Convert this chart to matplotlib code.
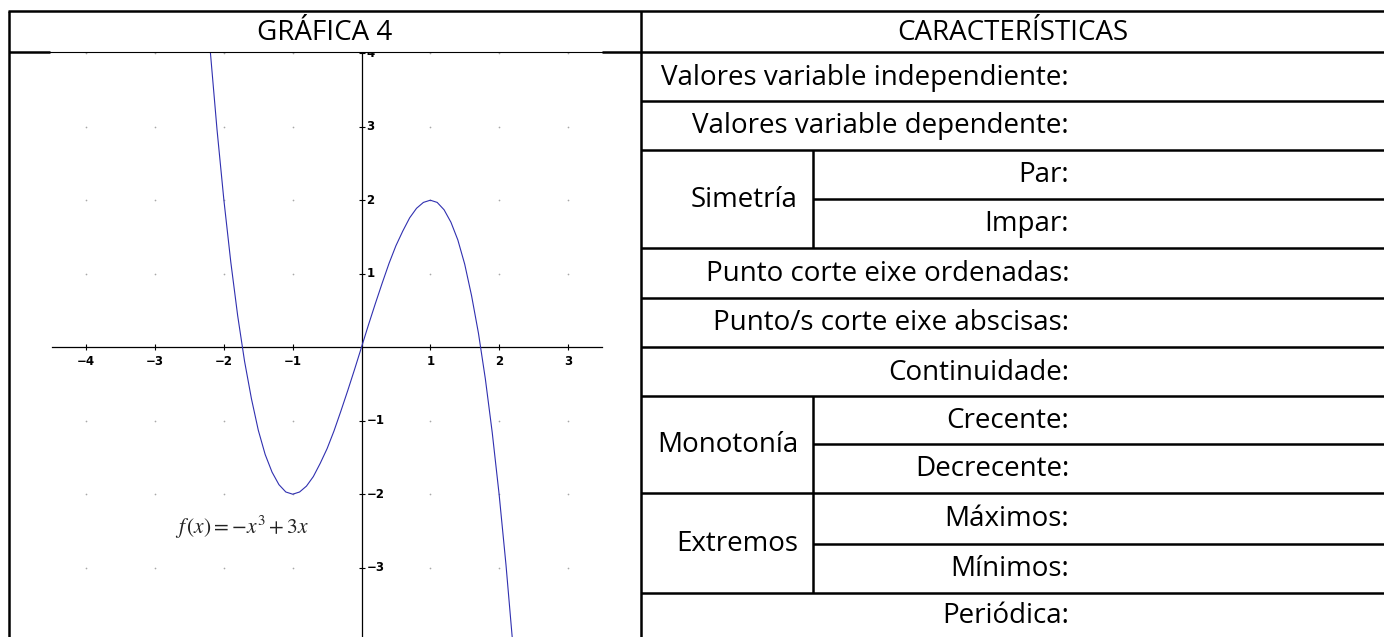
import numpy as np
import matplotlib
matplotlib.use("Agg")
import matplotlib.pyplot as plt

# ---- data -------------------------------------------------------------
# points read off the blue curve f(x) = -x^3 + 3x
curve_x = [-2.2, -2.1, -2.0, -1.9, -1.8, -1.7, -1.6, -1.5, -1.4, -1.3, -1.2,
           -1.1, -1.0, -0.9, -0.8, -0.7, -0.6, -0.5, -0.4, -0.3, -0.2, -0.1,
           0.0, 0.1, 0.2, 0.3, 0.4, 0.5, 0.6, 0.7, 0.8, 0.9, 1.0, 1.1, 1.2,
           1.3, 1.4, 1.5, 1.6, 1.7, 1.8, 1.9, 2.0, 2.1, 2.2]
curve_y = [4.05, 2.96, 2.00, 1.16, 0.43, -0.19, -0.70, -1.13, -1.46, -1.70,
           -1.87, -1.97, -2.00, -1.97, -1.89, -1.76, -1.58, -1.38, -1.14,
           -0.87, -0.59, -0.30, 0.00, 0.30, 0.59, 0.87, 1.14, 1.38, 1.58,
           1.76, 1.89, 1.97, 2.00, 1.97, 1.87, 1.70, 1.46, 1.13, 0.70, 0.19,
           -0.43, -1.16, -2.00, -2.96, -4.05]

x_ticks = [-4, -3, -2, -1, 1, 2, 3]
y_ticks = [-3, -2, -1, 1, 2, 3, 4]
grid_x = [-4, -3, -2, -1, 1, 2, 3]
grid_y = [-3, -2, -1, 1, 2, 3, 4]
formula = r"$f\,\left(x\right) = -x^{3} + 3x$"

title_left = "GRÁFICA 4"
title_right = "CARACTERÍSTICAS"

# right column labels (right aligned) and the row they sit in
row_labels = ["Valores variable independiente:", "Valores variable dependente:",
              "Par:", "Impar:", "Punto corte eixe ordenadas:",
              "Punto/s corte eixe abscisas:", "Continuidade:", "Crecente:",
              "Decrecente:", "Máximos:", "Mínimos:", "Periódica:"]
group_labels = ["Simetría", "Monotonía", "Extremos"]

# ---- layout (pixels) --------------------------------------------------
W, H = 1384, 637
X_LEFT, X_MID, X_SUB, X_END = 9, 641, 813, 1384
Y_TOP, Y_HEAD = 11, 52
row_edges = [52, 101, 150, 199, 248, 298, 347, 396, 444, 493, 544, 593, 637]
full_lines = [101, 150, 248, 298, 347, 396, 493, 593]
half_lines = [199, 444, 544]
groups = [(150, 248), (396, 493), (493, 593)]
TEXT_RIGHT = 1069
GROUP_RIGHT = 798

FONT = "Open Sans"
FS = 20
LW = 1.8

fig = plt.figure(figsize=(W / 100, H / 100), dpi=100)

# ---- graph --------------------------------------------------------------
px_per_x, px_per_y = 68.8, 73.5
x0_px, y0_px = 361.5, 347.2
gx = fig.add_axes([X_LEFT / W, 0, (X_MID - X_LEFT) / W, 1 - Y_HEAD / H])
gx.set_xlim((X_LEFT - x0_px) / px_per_x, (X_MID - x0_px) / px_per_x)
gx.set_ylim((y0_px - H) / px_per_y, (y0_px - Y_HEAD) / px_per_y)
gx.axis("off")

gxx, gyy = np.meshgrid(grid_x, grid_y)
gx.scatter(gxx.ravel(), gyy.ravel(), s=1.5, color="#a8a8a8", lw=0)

gx.plot([-4.5, 3.5], [0, 0], color="black", lw=0.9)
gx.plot([0, 0], [-5, 4], color="black", lw=0.9)
gx.plot(x_ticks, [0] * len(x_ticks), ls="none", marker="|", ms=5,
        color="black", mew=0.8)
gx.plot([0] * len(y_ticks), y_ticks, ls="none", marker="_", ms=5,
        color="black", mew=0.8)
for t in x_ticks:
    gx.text(t, -0.1, f"{t}".replace("-", "\u2212"), ha="center", va="top",
            fontsize=8.5, fontweight="bold", family="DejaVu Sans")
for t in y_ticks:
    gx.text(0.07, t, f"{t}".replace("-", "\u2212"), ha="left", va="center",
            fontsize=8.5, fontweight="bold", family="DejaVu Sans", clip_on=True)

gx.plot(curve_x, curve_y, color="#3030b0", lw=0.8)
gx.text(-1.74, -2.45, formula, ha="center", va="center", fontsize=15.5,
        math_fontfamily="stix", color="#222222")

# ---- table --------------------------------------------------------------
ax = fig.add_axes([0, 0, 1, 1])
ax.set_xlim(0, W)
ax.set_ylim(H, 0)
ax.axis("off")
ax.patch.set_alpha(0)

line = dict(color="black", lw=LW, solid_capstyle="butt")
ax.plot([X_LEFT - 1, X_END], [Y_TOP, Y_TOP], **line)
ax.plot([X_LEFT, 50], [Y_HEAD, Y_HEAD], **line)
ax.plot([50, 602], [Y_HEAD, Y_HEAD], color="black", lw=0.8)
ax.plot([602, X_END], [Y_HEAD, Y_HEAD], **line)
ax.plot([X_LEFT, X_LEFT], [Y_TOP, H], **line)
ax.plot([X_MID, X_MID], [Y_TOP, H], **line)
for y in full_lines:
    ax.plot([X_MID, X_END], [y, y], **line)
for y in half_lines:
    ax.plot([X_SUB, X_END], [y, y], **line)
for y1, y2 in groups:
    ax.plot([X_SUB, X_SUB], [y1, y2], **line)

ax.text((X_LEFT + X_MID) / 2, (Y_TOP + Y_HEAD) / 2 + 1, title_left,
        ha="center", va="center", fontsize=FS, family=FONT)
ax.text((X_MID + X_END) / 2, (Y_TOP + Y_HEAD) / 2 + 1, title_right,
        ha="center", va="center", fontsize=FS, family=FONT)

for i, lab in enumerate(row_labels):
    yc = (row_edges[i] + row_edges[i + 1]) / 2
    ax.text(TEXT_RIGHT, yc + 1, lab, ha="right", va="center",
            fontsize=FS, family=FONT)
for (y1, y2), lab in zip(groups, group_labels):
    ax.text(GROUP_RIGHT, (y1 + y2) / 2 + 1, lab, ha="right", va="center",
            fontsize=FS, family=FONT)

fig.savefig("out.png", dpi=100)
